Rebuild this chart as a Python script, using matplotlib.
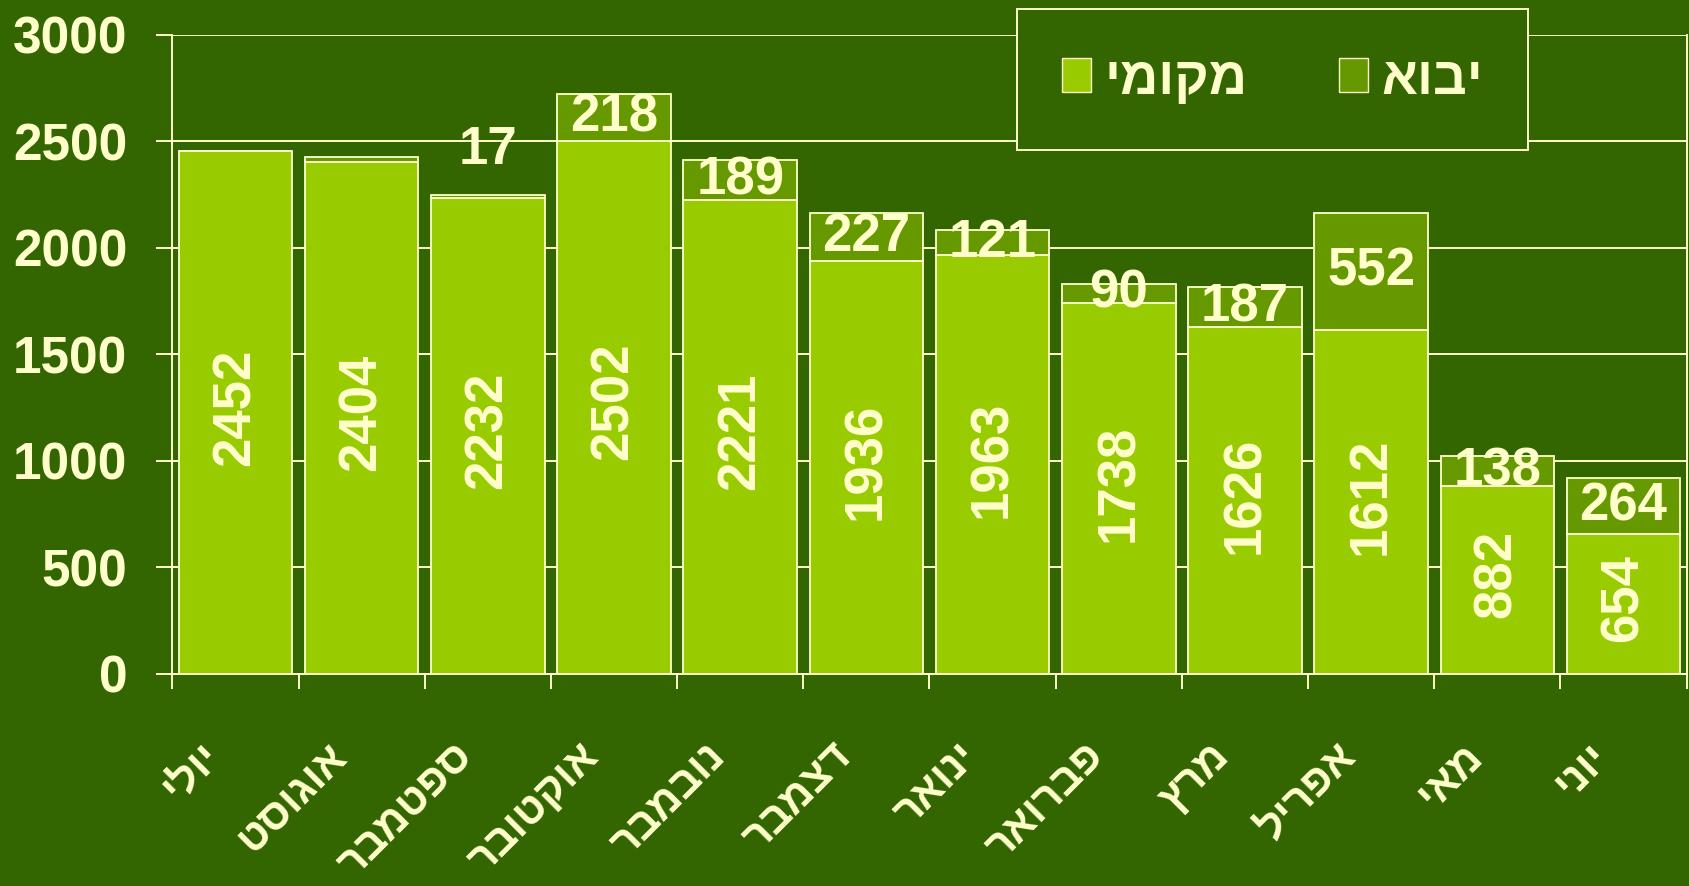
import matplotlib
matplotlib.use("Agg")
import matplotlib.pyplot as plt
from matplotlib.patches import Patch
from matplotlib.transforms import ScaledTranslation
import numpy as np

plt.rcParams['font.family'] = ['Liberation Sans', 'DejaVu Sans']
plt.rcParams['font.weight'] = 'bold'

months = ['יולי', 'אוגוסט', 'ספטמבר', 'אוקטובר', 'נובמבר', 'דצמבר',
          'ינואר', 'פברואר', 'מרץ', 'אפריל', 'מאי', 'יוני']
local = [2452, 2404, 2232, 2502, 2221, 1936, 1963, 1738, 1626, 1612, 882, 654]
imports = [0, 20, 17, 218, 189, 227, 121, 90, 187, 552, 138, 264]
import_labels = ['', '', '17', '218', '189', '227', '121', '90', '187', '552', '138', '264']
legend_local = 'מקומי'
legend_import = 'יבוא'
yticks = [0, 500, 1000, 1500, 2000, 2500, 3000]

BG = '#336600'
C_LOCAL = '#99CC00'
C_IMPORT = '#669900'
CREAM = '#FFFFCC'
FS = 38


def vis(s):
    # matplotlib has no bidi: reverse Hebrew so it reads right-to-left
    return s[::-1]


fig = plt.figure(figsize=(16.9, 8.86), dpi=100, facecolor=BG)
ax = fig.add_axes([0.102, 0.2397, 0.896, 0.7213])
ax.set_facecolor(BG)

x = np.arange(len(months))
w = 0.9
ax.bar(x, local, width=w, color=C_LOCAL, edgecolor=CREAM, linewidth=1.3, zorder=2)
ax.bar(x, imports, width=w, bottom=local, color=C_IMPORT, edgecolor=CREAM,
       linewidth=1.3, zorder=2)

ax.set_xlim(-0.5, len(months) - 0.5)
ax.set_ylim(0, 3000)
ax.set_yticks(yticks)
ax.yaxis.grid(True, color=CREAM, linewidth=1.4, zorder=0)
ax.set_axisbelow(True)

for side in ['left', 'right', 'bottom']:
    ax.spines[side].set_color(CREAM)
    ax.spines[side].set_linewidth(1.4)
ax.spines['top'].set_visible(False)

ax.tick_params(axis='y', colors=CREAM, length=11.5, width=1.4, pad=21, labelsize=37)
for t in ax.get_yticklabels():
    t.set_fontweight('bold')

ax.set_xticks(x)
ax.set_xticklabels([vis(m) for m in months], rotation=45, ha='right', va='top',
                   rotation_mode='anchor', fontsize=31, fontweight='bold', color=CREAM)
ax.tick_params(axis='x', which='major', length=0, pad=45)
offset = ScaledTranslation(-0.35, 0, fig.dpi_scale_trans)
for lab in ax.get_xticklabels():
    lab.set_transform(lab.get_transform() + offset)
ax.set_xticks(np.arange(len(months) + 1) - 0.5, minor=True)
ax.tick_params(axis='x', which='minor', length=11, width=1.4, color=CREAM)

# value labels
for xi, lv in zip(x, local):
    ax.annotate(str(lv), (xi, lv / 2), xytext=(0, 4), textcoords='offset points',
                rotation=90, ha='center', va='center',
                fontsize=FS, fontweight='bold', color=CREAM, zorder=5)
for xi, lv, iv, lab in zip(x, local, imports, import_labels):
    if not lab:
        continue
    if iv < 50:
        ax.annotate(lab, (xi, lv + iv), xytext=(0, 32), textcoords='offset points',
                    ha='center', va='center', fontsize=FS, fontweight='bold',
                    color=CREAM, zorder=5)
    else:
        ax.text(xi, lv + iv / 2, lab, ha='center', va='center', fontsize=FS,
                fontweight='bold', color=CREAM, zorder=5)

handles = [Patch(facecolor=C_LOCAL, edgecolor=CREAM, linewidth=1.0),
           Patch(facecolor=C_IMPORT, edgecolor=CREAM, linewidth=1.0)]
x0 = 1017 / 1690
x1 = 1528 / 1690
y1 = 1 - 9 / 886
y0 = 1 - 150 / 886
leg = fig.legend(handles, [vis(legend_local), vis(legend_import)], ncol=2,
                 loc='center', bbox_to_anchor=(x0, y0, x1 - x0, y1 - y0),
                 bbox_transform=fig.transFigure, mode='expand',
                 prop={'size': 38, 'weight': 'bold'}, labelcolor=CREAM,
                 frameon=True, fancybox=False, facecolor=BG, edgecolor=CREAM,
                 framealpha=1, borderpad=0.86, handlelength=0.55, handleheight=0.62,
                 handletextpad=0.25, columnspacing=2.0, borderaxespad=0)
leg.get_frame().set_linewidth(1.4)

fig.savefig('out.png', dpi=100, facecolor=BG)
